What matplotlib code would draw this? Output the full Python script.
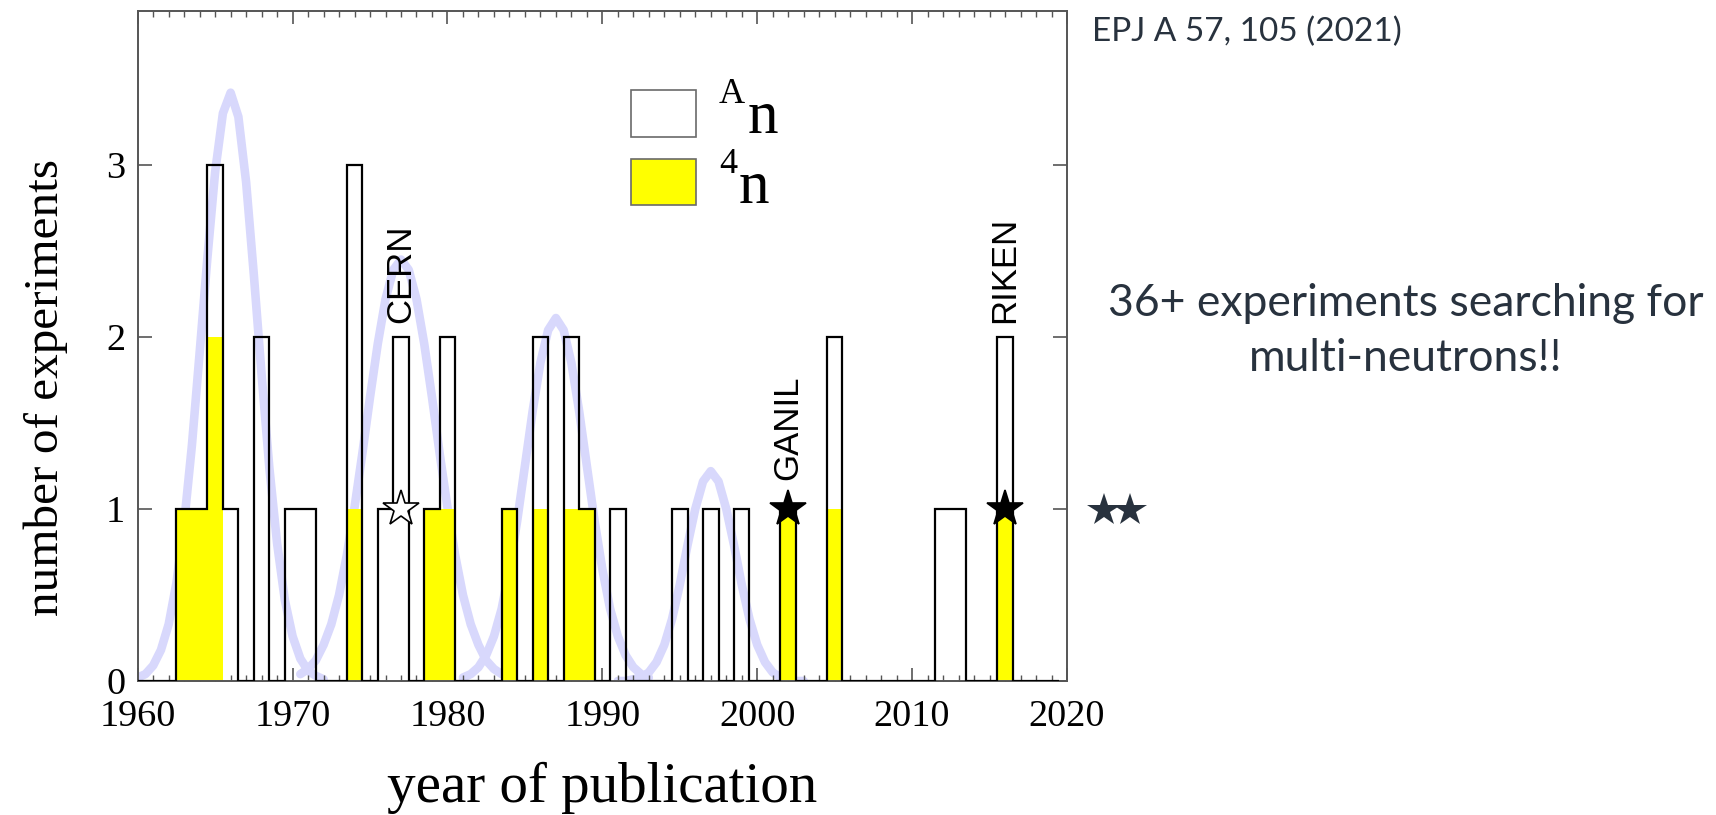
import numpy as np
import matplotlib
matplotlib.use("Agg")
import matplotlib.pyplot as plt
from matplotlib.lines import Line2D
from matplotlib.patches import Rectangle
from matplotlib.ticker import FixedLocator, MultipleLocator, NullLocator

# ---- data -------------------------------------------------------------
# all multineutron searches, per year of publication
years_all = [1963, 1964, 1965, 1966, 1968, 1970, 1971, 1974, 1976, 1977,
             1979, 1980, 1984, 1986, 1988, 1989, 1991, 1995, 1997, 1999,
             2002, 2005, 2012, 2013, 2016]
counts_all = [1, 1, 3, 1, 2, 1, 1, 3, 1, 2,
              1, 2, 1, 2, 2, 1, 1, 1, 1, 1,
              1, 2, 1, 1, 2]

# tetraneutron (4n) searches
years_4n = [1963, 1964, 1965, 1974, 1979, 1980, 1984, 1986, 1988, 1989,
            2002, 2005, 2016]
counts_4n = [1, 1, 2, 1, 1, 1, 1, 1, 1, 1,
             1, 1, 1]

# highlighted facilities
facility_names = ["CERN", "GANIL", "RIKEN"]
facility_years = [1977, 2002, 2016]
facility_filled = [False, True, True]

# smooth trend bumps
trend1_years = [1960.0, 1960.5, 1961.0, 1961.5, 1962.0, 1962.5, 1963.0, 1963.5,
                1964.0, 1964.5, 1965.0, 1965.5, 1966.0, 1966.5, 1967.0, 1967.5,
                1968.0, 1968.5, 1969.0, 1969.5, 1970.0, 1970.5, 1971.0, 1971.5,
                1972.0]
trend1_vals = [0.02, 0.04, 0.09, 0.18, 0.33, 0.57, 0.92, 1.37, 1.91, 2.46,
               2.96, 3.30, 3.42, 3.28, 2.90, 2.36, 1.78, 1.24, 0.80, 0.47,
               0.26, 0.13, 0.06, 0.03, 0.01]

trend2_years = [1970.5, 1971.0, 1971.5, 1972.0, 1972.5, 1973.0, 1973.5, 1974.0,
                1974.5, 1975.0, 1975.5, 1976.0, 1976.5, 1977.0, 1977.5, 1978.0,
                1978.5, 1979.0, 1979.5, 1980.0, 1980.5, 1981.0, 1981.5, 1982.0,
                1982.5, 1983.0, 1983.5]
trend2_vals = [0.04, 0.07, 0.12, 0.21, 0.33, 0.50, 0.73, 1.01, 1.32, 1.65,
               1.96, 2.22, 2.39, 2.45, 2.39, 2.22, 1.96, 1.65, 1.32, 1.01,
               0.73, 0.50, 0.33, 0.21, 0.12, 0.07, 0.04]

trend3_years = [1981.0, 1981.5, 1982.0, 1982.5, 1983.0, 1983.5, 1984.0, 1984.5,
                1985.0, 1985.5, 1986.0, 1986.5, 1987.0, 1987.5, 1988.0, 1988.5,
                1989.0, 1989.5, 1990.0, 1990.5, 1991.0, 1991.5, 1992.0, 1992.5,
                1993.0]
trend3_vals = [0.02, 0.04, 0.08, 0.15, 0.26, 0.42, 0.65, 0.93, 1.25, 1.57,
               1.85, 2.04, 2.11, 2.04, 1.85, 1.57, 1.25, 0.93, 0.65, 0.42,
               0.26, 0.15, 0.08, 0.04, 0.02]

trend4_years = [1991.0, 1991.5, 1992.0, 1992.5, 1993.0, 1993.5, 1994.0, 1994.5,
                1995.0, 1995.5, 1996.0, 1996.5, 1997.0, 1997.5, 1998.0, 1998.5,
                1999.0, 1999.5, 2000.0, 2000.5, 2001.0, 2001.5, 2002.0, 2002.5,
                2003.0]
trend4_vals = [0.00, 0.00, 0.01, 0.02, 0.05, 0.11, 0.21, 0.36, 0.56, 0.79,
               1.00, 1.16, 1.22, 1.16, 1.00, 0.79, 0.56, 0.36, 0.21, 0.11,
               0.05, 0.02, 0.01, 0.00, 0.00]

x_ticks = [1960, 1970, 1980, 1990, 2000, 2010, 2020]
y_ticks = [0, 1, 2, 3]

# ---- figure -----------------------------------------------------------
W, H = 1716, 815
plt.rcParams["font.family"] = ["Liberation Serif", "DejaVu Serif"]

fig = plt.figure(figsize=(W / 100, H / 100), dpi=100)
ax_l, ax_r, ax_t, ax_b = 137.7, 1067.0, 11.0, 681.0
ax = fig.add_axes([ax_l / W, 1 - ax_b / H, (ax_r - ax_l) / W, (ax_b - ax_t) / H])


def fig_xy(px, py):
    return px / W, 1 - py / H


def axes_xy(px, py):
    return (px - ax_l) / (ax_r - ax_l), (ax_b - py) / (ax_b - ax_t)


# trend curves
trend_color = "#d8d8fc"
for ty, tv in [(trend1_years, trend1_vals), (trend2_years, trend2_vals),
               (trend3_years, trend3_vals), (trend4_years, trend4_vals)]:
    ax.plot(ty, tv, color=trend_color, lw=6.2, solid_capstyle="round",
            solid_joinstyle="round", zorder=1)

# per-year histograms
edges = np.arange(1959.5, 2020.5, 1.0)
tot = np.zeros(len(edges) - 1)
tot[np.array(years_all) - 1960] = counts_all
t4n = np.zeros(len(edges) - 1)
t4n[np.array(years_4n) - 1960] = counts_4n

ax.stairs(t4n, edges, fill=True, color="#ffff00", lw=0, zorder=2)
ax.stairs(tot, edges, fill=False, color="black", lw=1.6, zorder=3)

# facility markers and labels
for name, yr, filled in zip(facility_names, facility_years, facility_filled):
    ax.plot([yr], [1], marker="*", ms=27.5, mew=1.2, mec="black",
            mfc="black" if filled else "white", zorder=5, clip_on=False)
    top = tot[yr - 1960]
    base = top + 0.08 if top > 1 else 1.17
    ax.text(yr, base, name, rotation=90, ha="center", va="bottom",
            family="Liberation Sans", fontsize=25, zorder=6)

# axes styling
ax.set_xlim(1960, 2020)
ax.set_ylim(0, 3.895)
ax.xaxis.set_major_locator(FixedLocator(x_ticks))
ax.xaxis.set_minor_locator(MultipleLocator(1))
ax.yaxis.set_major_locator(FixedLocator(y_ticks))
ax.yaxis.set_minor_locator(NullLocator())
ax.set_xticklabels([str(v) for v in x_ticks])
ax.set_yticklabels([str(v) for v in y_ticks])

spine_c = "#555555"
for s in ax.spines.values():
    s.set_color(spine_c)
    s.set_linewidth(1.4)
ax.tick_params(axis="both", which="both", direction="in", top=True, right=True,
               color=spine_c)
ax.tick_params(axis="x", which="major", length=9.5, width=1.2, pad=13.5, labelsize=27.5)
ax.tick_params(axis="x", which="minor", length=4.3, width=1.0)
ax.tick_params(axis="y", which="major", length=10, width=1.2, pad=9, labelsize=27.5)

ax.set_xlabel("year of publication", fontsize=41)
ax.xaxis.set_label_coords(0.5, axes_xy(0, 802)[1])
ax.xaxis.label.set_va("baseline")
ax.set_ylabel("number of experiments", fontsize=35.5)
ax.yaxis.set_label_coords(axes_xy(68, 0)[0], axes_xy(0, 388)[1])

# legend drawn by hand
for (x0, y0, x1, y1), fc in [((631, 90, 696, 137), "white"),
                             ((631, 159, 696, 205), "#ffff00")]:
    ax0, ay1 = axes_xy(x0, y0)
    ax1, ay0 = axes_xy(x1, y1)
    ax.add_patch(Rectangle((ax0, ay0), ax1 - ax0, ay1 - ay0, transform=ax.transAxes,
                           facecolor=fc, edgecolor="#6a6a6a", lw=1.2, zorder=7))
fig.text(*fig_xy(719, 103), "A", fontsize=26, va="baseline", ha="left")
fig.text(*fig_xy(748, 133), "n", fontsize=44, va="baseline", ha="left")
fig.text(*fig_xy(719, 173), "4", fontsize=26, va="baseline", ha="left")
fig.text(*fig_xy(739, 203), "n", fontsize=44, va="baseline", ha="left")

# annotations to the right of the plot
note_c = "#28323e"
fig.text(*fig_xy(1092, 41), "EPJ A 57, 105 (2021)", family="Lato", fontsize=24,
         color=note_c, va="baseline", ha="left")
fig.text(*fig_xy(1406, 316), "36+ experiments searching for", family="Lato",
         fontsize=32, color=note_c, va="baseline", ha="center")
fig.text(*fig_xy(1406, 371), "multi-neutrons!!", family="Lato",
         fontsize=32, color=note_c, va="baseline", ha="center")
for sx in (1104, 1130):
    fig.add_artist(Line2D([sx / W], [1 - 510 / H], marker="*", ms=25, mew=0,
                          color=note_c, transform=fig.transFigure))

fig.savefig("out.png", dpi=100, facecolor="white")
